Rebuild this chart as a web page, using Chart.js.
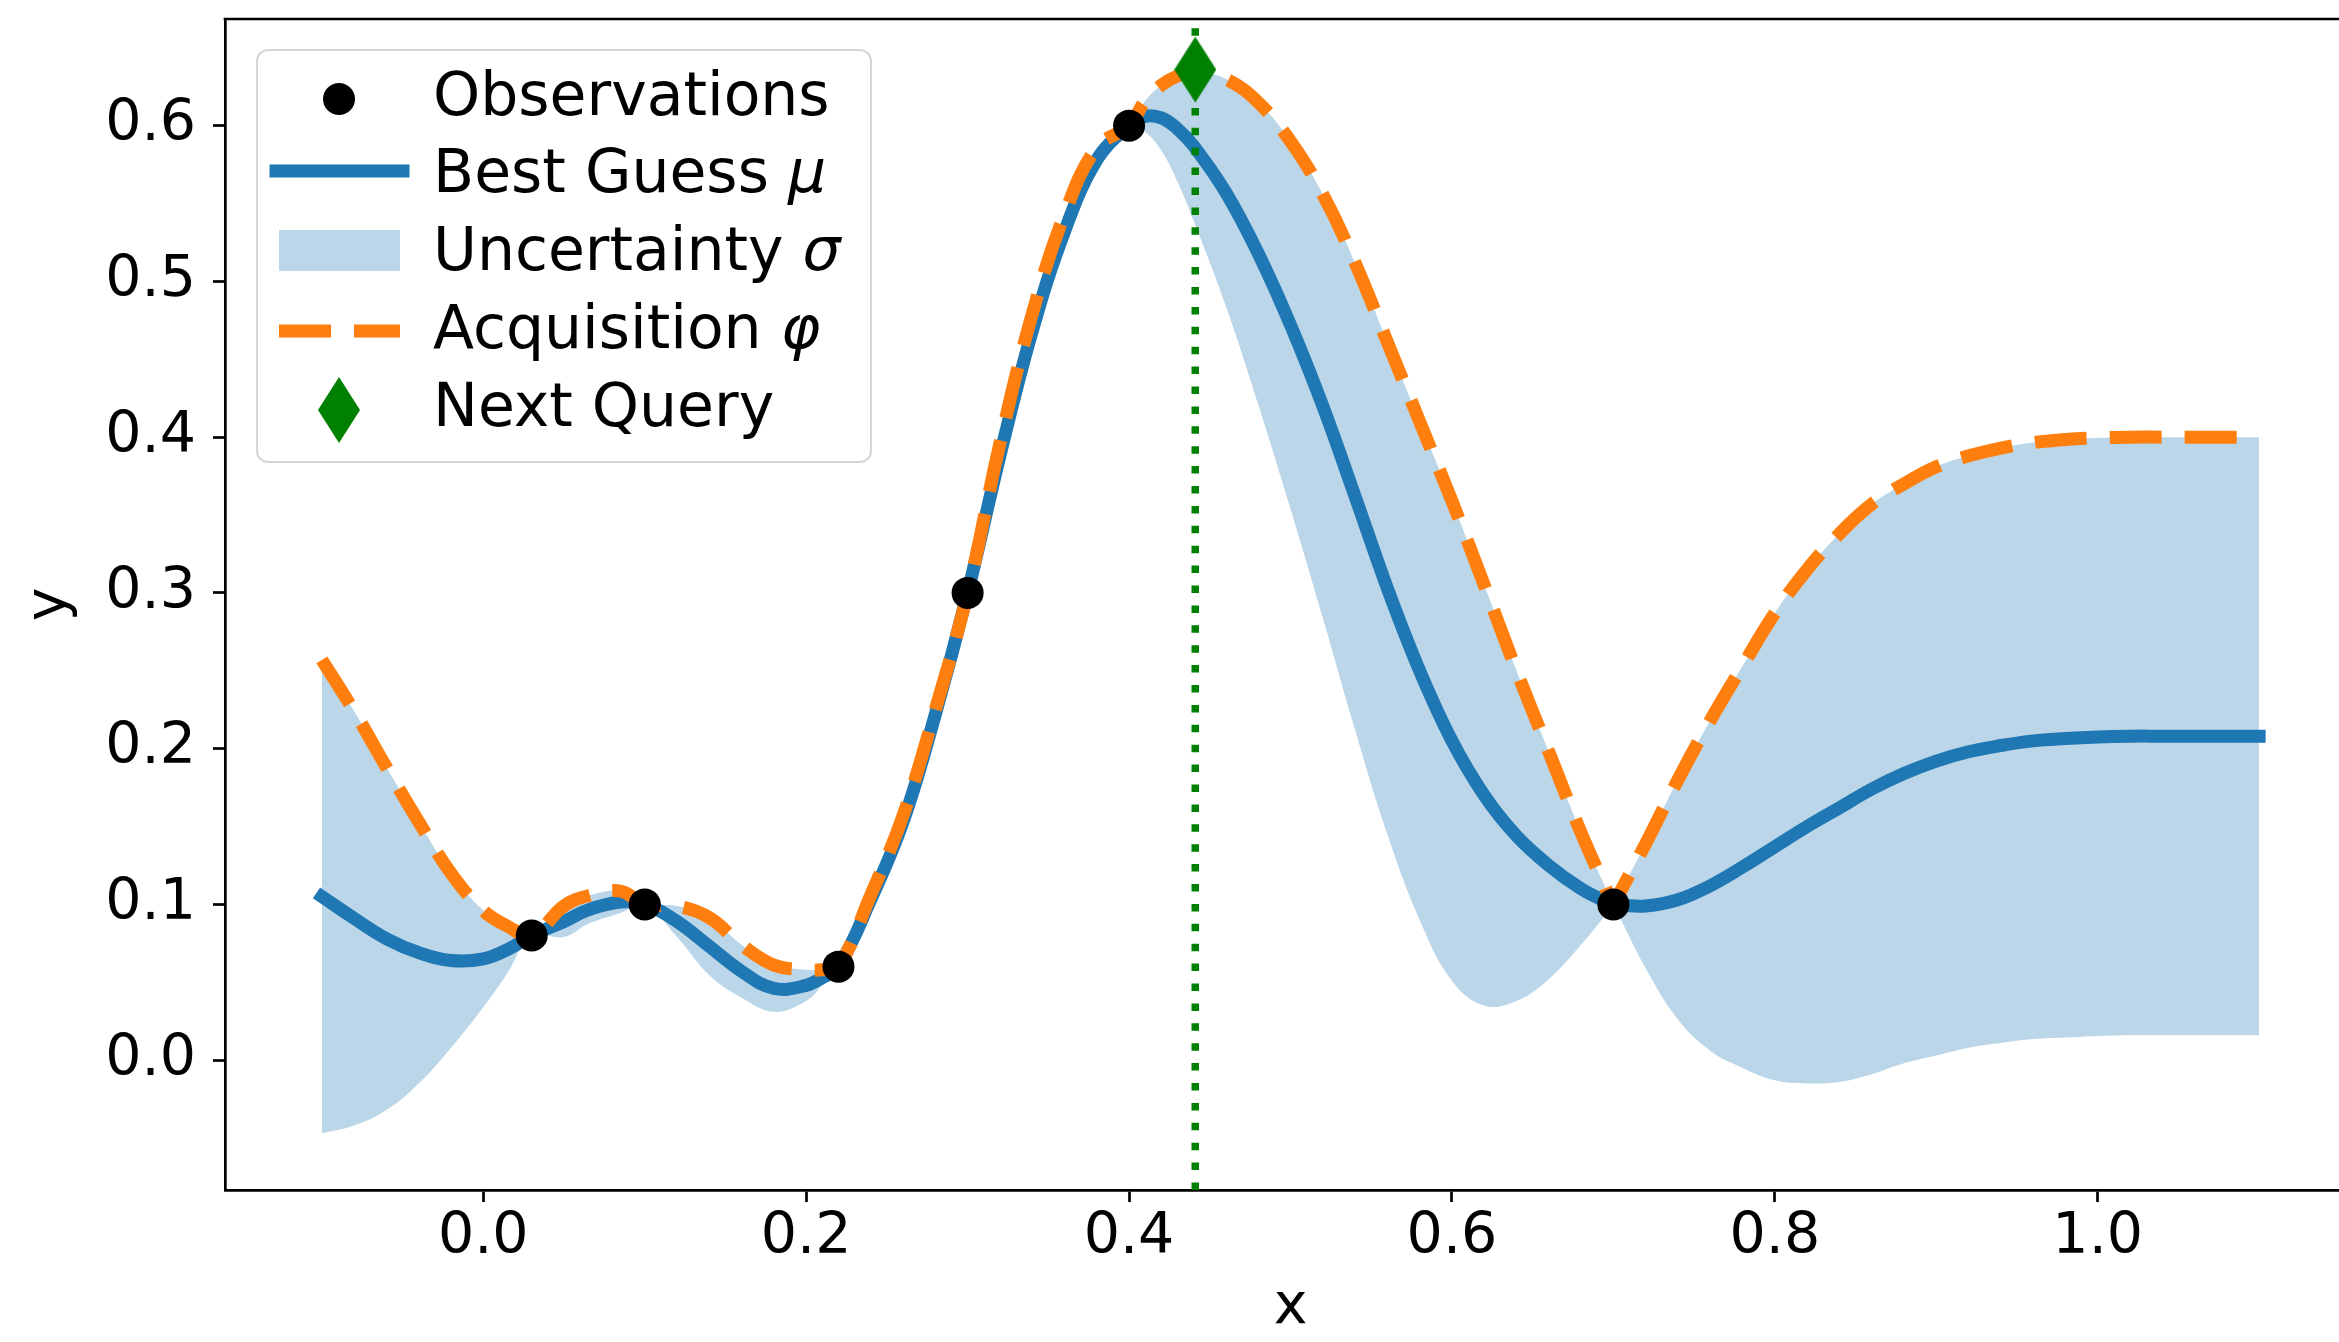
<!DOCTYPE html>
<html>
<head>
<meta charset="utf-8">
<title>Bayesian optimisation step</title>
<script src="https://cdn.jsdelivr.net/npm/chart.js@4.4.1/dist/chart.umd.min.js"></script>
<style>
  html, body { margin: 0; padding: 0; background: #fff; overflow: hidden; }
  #wrap { position: relative; width: 2339px; height: 1342px; overflow: hidden; }
  #gpChart { position: absolute; left: 0; top: 0; }
  #legend { position: absolute; left: 0; top: 0; pointer-events: none; }
  #legend text { font-family: 'DejaVu Sans'; font-size: 60px; fill: #000; }
</style>
</head>
<body>
<div id="wrap">
  <!-- the plot box runs a little past the right edge, like the cropped original -->
  <canvas id="gpChart" width="2356" height="1342" style="width:2356px;height:1342px"></canvas>
  <svg id="legend" width="2339" height="1342">
    <rect x="257" y="50" width="614" height="412" rx="11" ry="11" fill="rgba(255,255,255,0.8)" stroke="#d6d6d6" stroke-width="2"/>
    <circle cx="339" cy="99" r="16" fill="#000"/>
    <line x1="276" y1="171" x2="403" y2="171" stroke="#1f77b4" stroke-width="13" stroke-linecap="square"/>
    <rect x="279" y="230" width="121" height="41" fill="rgba(31,119,180,0.3)"/>
    <line x1="279" y1="331" x2="400" y2="331" stroke="#ff7f0e" stroke-width="13" stroke-dasharray="52 23"/>
    <polygon points="339,377 360,410 339,443 318,410" fill="#008000"/>
    <text x="433" y="115">Observations</text>
    <text x="433" y="192">Best Guess <tspan font-style="italic">μ</tspan></text>
    <text x="433" y="270">Uncertainty <tspan font-style="italic">σ</tspan></text>
    <text x="433" y="348">Acquisition <tspan font-style="italic">φ</tspan></text>
    <text x="433" y="426">Next Query</text>
  </svg>
</div>
<script>
// values
const xs = [-0.10, -0.08, -0.06, -0.04, -0.02, 0.00, 0.015, 0.03, 0.05, 0.065, 0.085, 0.10,
  0.12, 0.14, 0.16, 0.18, 0.20, 0.21, 0.22, 0.24, 0.26, 0.28, 0.30, 0.32, 0.34, 0.36, 0.38,
  0.40, 0.41, 0.42, 0.43, 0.44, 0.46, 0.48, 0.50, 0.52, 0.54, 0.56, 0.58, 0.60, 0.62, 0.64,
  0.66, 0.68, 0.695, 0.70, 0.705, 0.72, 0.74, 0.76, 0.78, 0.80, 0.82, 0.84, 0.86, 0.88, 0.90,
  0.92, 0.94, 0.96, 0.98, 1.00, 1.02, 1.04, 1.06, 1.08, 1.10];

const muVals = [0.105, 0.091, 0.078, 0.069, 0.064, 0.065, 0.071, 0.080, 0.089, 0.0965, 0.1015, 0.100,
  0.089, 0.073, 0.057, 0.046, 0.048, 0.053, 0.060, 0.103, 0.153, 0.222, 0.300, 0.388, 0.468, 0.532, 0.578,
  0.600, 0.606, 0.605, 0.598, 0.587, 0.557, 0.518, 0.472, 0.420, 0.362, 0.303, 0.250, 0.205, 0.170, 0.144,
  0.125, 0.110, 0.102, 0.100, 0.0995, 0.099, 0.103, 0.112, 0.124, 0.137, 0.150, 0.162, 0.174, 0.184, 0.192,
  0.198, 0.202, 0.205, 0.2065, 0.2075, 0.208, 0.208, 0.208, 0.208, 0.208];

const acqVals = [0.257, 0.224, 0.188, 0.153, 0.120, 0.096, 0.086, 0.080, 0.099, 0.1055, 0.1085, 0.100,
  0.099, 0.0915, 0.074, 0.061, 0.058, 0.058, 0.060, 0.106, 0.157, 0.225, 0.300, 0.396, 0.479, 0.543, 0.586,
  0.600, 0.616, 0.626, 0.632, 0.635, 0.630, 0.615, 0.590, 0.556, 0.512, 0.461, 0.410, 0.359, 0.305, 0.250,
  0.198, 0.146, 0.111, 0.100, 0.1095, 0.139, 0.180, 0.218, 0.253, 0.287, 0.315, 0.338, 0.357, 0.370, 0.381,
  0.388, 0.393, 0.3965, 0.3985, 0.3995, 0.400, 0.400, 0.400, 0.400, 0.400];

const lowerVals = [-0.047, -0.042, -0.032, -0.015, 0.008, 0.034, 0.056, 0.080, 0.079, 0.0875, 0.0945, 0.100,
  0.079, 0.0545, 0.040, 0.031, 0.038, 0.048, 0.060, 0.100, 0.149, 0.219, 0.300, 0.380, 0.457, 0.521, 0.570,
  0.600, 0.596, 0.584, 0.564, 0.539, 0.484, 0.421, 0.354, 0.284, 0.212, 0.145, 0.090, 0.051, 0.035, 0.038,
  0.052, 0.074, 0.093, 0.100, 0.0895, 0.059, 0.026, 0.006, -0.005, -0.013, -0.015, -0.014, -0.009, -0.002, 0.003,
  0.008, 0.011, 0.0135, 0.0145, 0.0155, 0.016, 0.016, 0.016, 0.016, 0.016];

const obsX = [0.03, 0.10, 0.22, 0.30, 0.40, 0.70];
const obsY = [0.08, 0.10, 0.06, 0.30, 0.60, 0.10];

const nextX = 0.441;
const nextY = 0.636;

const xTicks = [0.0, 0.2, 0.4, 0.6, 0.8, 1.0];
const yTicks = [0.0, 0.1, 0.2, 0.3, 0.4, 0.5, 0.6];
const xRange = [-0.16, 1.16];
const yRange = [-0.0834, 0.6685];

const pts = (ys) => xs.map((x, i) => ({ x: x, y: ys[i] }));

// thin diamond marker like matplotlib's 'd'
const diamond = document.createElement('canvas');
diamond.width = 42;
diamond.height = 66;
const dctx = diamond.getContext('2d');
dctx.fillStyle = '#008000';
dctx.beginPath();
dctx.moveTo(21, 0);
dctx.lineTo(42, 33);
dctx.lineTo(21, 66);
dctx.lineTo(0, 33);
dctx.closePath();
dctx.fill();

// top and right spines
const frame = {
  id: 'frame',
  afterDatasetsDraw(chart) {
    const { ctx, chartArea } = chart;
    ctx.save();
    ctx.strokeStyle = '#000';
    ctx.lineWidth = 2.7;
    ctx.beginPath();
    ctx.moveTo(chartArea.left - 1.35, chartArea.top);
    ctx.lineTo(chartArea.right, chartArea.top);
    ctx.lineTo(chartArea.right, chartArea.bottom);
    ctx.stroke();
    ctx.restore();
  }
};

Chart.defaults.font.family = 'DejaVu Sans';
Chart.defaults.color = '#000';

const tickFont = { family: 'DejaVu Sans', size: 57 };

new Chart(document.getElementById('gpChart'), {
  type: 'line',
  data: {
    datasets: [
      {
        label: 'Next Query',
        data: [{ x: nextX, y: nextY }],
        showLine: false,
        pointStyle: diamond,
        pointRadius: 33,
        order: 0
      },
      {
        label: 'Observations',
        data: obsX.map((x, i) => ({ x: x, y: obsY[i] })),
        showLine: false,
        pointRadius: 16,
        pointBackgroundColor: '#000',
        pointBorderWidth: 0,
        order: 1
      },
      {
        label: 'next x',
        data: [{ x: nextX, y: yRange[0] }, { x: nextX, y: yRange[1] }],
        borderColor: '#008000',
        borderWidth: 7.5,
        borderDash: [7.5, 12.4],
        borderCapStyle: 'butt',
        tension: 0,
        pointRadius: 0,
        order: 2
      },
      {
        label: 'Acquisition',
        data: pts(acqVals),
        borderColor: '#ff7f0e',
        borderWidth: 13,
        borderDash: [52, 23],
        borderCapStyle: 'butt',
        pointRadius: 0,
        order: 3
      },
      {
        label: 'Best Guess',
        data: pts(muVals),
        borderColor: '#1f77b4',
        borderWidth: 13,
        borderCapStyle: 'square',
        pointRadius: 0,
        order: 4
      },
      {
        label: 'band top',
        data: pts(acqVals),
        borderColor: 'rgba(0,0,0,0)',
        borderWidth: 0,
        backgroundColor: 'rgba(31,119,180,0.3)',
        fill: '+1',
        pointRadius: 0,
        order: 5
      },
      {
        label: 'band bottom',
        data: pts(lowerVals),
        borderColor: 'rgba(0,0,0,0)',
        borderWidth: 0,
        fill: false,
        pointRadius: 0,
        order: 6
      }
    ]
  },
  options: {
    responsive: false,
    animation: false,
    events: [],
    layout: { autoPadding: false, padding: { top: 19, left: 0, right: 0, bottom: 0 } },
    elements: { line: { tension: 0.4 } },
    plugins: {
      legend: { display: false },
      tooltip: { enabled: false }
    },
    scales: {
      x: {
        type: 'linear',
        min: xRange[0],
        max: xRange[1],
        afterBuildTicks: (s) => { s.ticks = xTicks.map(v => ({ value: v })); },
        afterFit: (s) => { s.height = 152; s.paddingLeft = 0; s.paddingRight = 0; },
        ticks: {
          callback: (v) => v.toFixed(1),
          font: tickFont,
          color: '#000',
          padding: 2,
          maxRotation: 0,
          autoSkip: false
        },
        grid: { drawOnChartArea: false, drawTicks: true, tickLength: 12, tickWidth: 2.7, tickColor: '#000' },
        border: { display: true, color: '#000', width: 2.7 },
        title: { display: true, text: 'x', font: tickFont, color: '#000', padding: { top: 0, bottom: 0 } }
      },
      y: {
        type: 'linear',
        min: yRange[0],
        max: yRange[1],
        afterBuildTicks: (s) => { s.ticks = yTicks.map(v => ({ value: v })); },
        afterFit: (s) => { s.width = 225; s.paddingTop = 0; s.paddingBottom = 0; },
        ticks: {
          callback: (v) => v.toFixed(1),
          font: tickFont,
          color: '#000',
          padding: 17
        },
        grid: { drawOnChartArea: false, drawTicks: true, tickLength: 12, tickWidth: 2.7, tickColor: '#000' },
        border: { display: true, color: '#000', width: 2.7 },
        title: { display: true, text: 'y', font: tickFont, color: '#000', padding: { top: 16, bottom: 0 } }
      }
    }
  },
  plugins: [frame]
});
</script>
</body>
</html>
